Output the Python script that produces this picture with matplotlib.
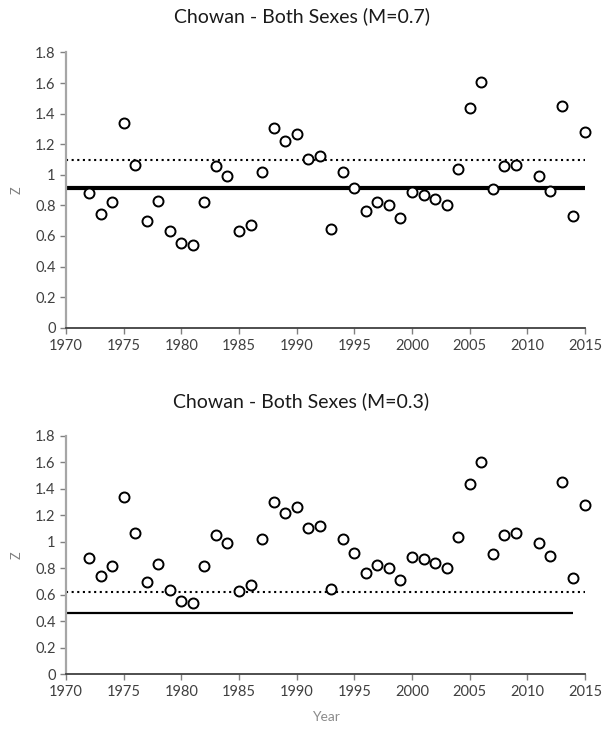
import numpy as np
import matplotlib
matplotlib.use("Agg")
import matplotlib.pyplot as plt

plt.rcParams['font.family'] = ['Lato', 'DejaVu Sans']

# Z estimates by year (2010 missing)
years = [1972, 1973, 1974, 1975, 1976, 1977, 1978, 1979, 1980, 1981,
         1982, 1983, 1984, 1985, 1986, 1987, 1988, 1989, 1990, 1991,
         1992, 1993, 1994, 1995, 1996, 1997, 1998, 1999, 2000, 2001,
         2002, 2003, 2004, 2005, 2006, 2007, 2008, 2009, 2011, 2012,
         2013, 2014, 2015]
z = [0.88, 0.745, 0.82, 1.34, 1.065, 0.695, 0.83, 0.635, 0.555, 0.54,
     0.82, 1.055, 0.99, 0.63, 0.675, 1.02, 1.305, 1.22, 1.265, 1.105,
     1.12, 0.645, 1.02, 0.915, 0.765, 0.825, 0.80, 0.715, 0.885, 0.87,
     0.84, 0.80, 1.04, 1.44, 1.605, 0.905, 1.055, 1.065, 0.99, 0.895,
     1.45, 0.73, 1.28]

titles = ["Chowan - Both Sexes (M=0.7)", "Chowan - Both Sexes (M=0.3)"]
dotted_z = [1.10, 0.62]          # dotted reference line
solid_z = [0.915, 0.465]         # solid reference line
solid_end = [2015, 2014]
solid_lw = [3.0, 1.6]

xticks = list(range(1970, 2016, 5))
yticks = [0, 0.2, 0.4, 0.6, 0.8, 1, 1.2, 1.4, 1.6, 1.8]
ylabels = ["0", "0.2", "0.4", "0.6", "0.8", "1", "1.2", "1.4", "1.6", "1.8"]

fig = plt.figure(figsize=(6.03, 7.34), dpi=100)
ax_top = fig.add_axes([0.1095, 0.5535, 0.8607, 0.375])
ax_bot = fig.add_axes([0.1095, 0.0813, 0.8607, 0.3247])
axes = [ax_top, ax_bot]
title_y = [1 - 16 / 734, 1 - 401 / 734]

for i, ax in enumerate(axes):
    ax.hlines(dotted_z[i], 1970, 2015, colors='black', linewidth=1.5,
              linestyles=(0, (1, 1.7)), zorder=2)
    ax.hlines(solid_z[i], 1970, solid_end[i], colors='black',
              linewidth=solid_lw[i], zorder=2)
    ax.plot(years, z, linestyle='none', marker='o', markersize=7.2,
            markerfacecolor='white', markeredgecolor='black',
            markeredgewidth=1.4, zorder=3, clip_on=False)
    ax.set_xlim(1970, 2015)
    ax.set_ylim(0, 1.8)
    ax.set_xticks(xticks)
    ax.set_yticks(yticks)
    ax.set_yticklabels(ylabels)
    ax.tick_params(axis='both', direction='out', length=4, width=1,
                   colors='#808080', labelcolor='#404040', labelsize=10.5)
    ax.tick_params(axis='x', pad=4)
    ax.spines['top'].set_visible(False)
    ax.spines['right'].set_visible(False)
    ax.spines['left'].set_color('#a6a6a6')
    ax.spines['left'].set_linewidth(1.6)
    ax.spines['bottom'].set_color('#404040')
    ax.spines['bottom'].set_linewidth(1.3)
    ax.set_ylabel("Z", color='#7f7f7f', fontsize=9, labelpad=9)
    fig.text(0.5, title_y[i], titles[i], ha='center', va='center',
             fontsize=14, color='#1a1a1a')

ax_bot.set_xlabel("Year", color='#8c8c8c', fontsize=10, labelpad=8)

fig.savefig("out.png", dpi=100, facecolor='white')
